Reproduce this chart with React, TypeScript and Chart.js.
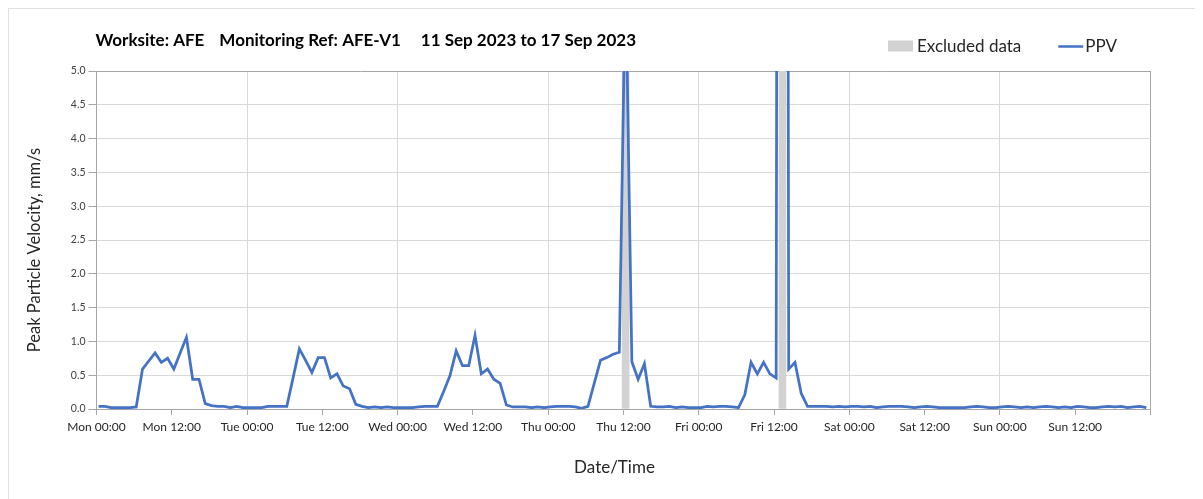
import React, { useEffect, useRef } from 'react';
import { Chart, registerables } from 'chart.js';

Chart.register(...registerables);

// ---- data -------------------------------------------------------------
const TITLE_PARTS = ['Worksite: AFE', 'Monitoring Ref: AFE-V1', '11 Sep 2023 to 17 Sep 2023'];
const X_AXIS_TITLE = 'Date/Time';
const Y_AXIS_TITLE = 'Peak Particle Velocity, mm/s';
const X_TICK_LABELS = [
  'Mon 00:00', 'Mon 12:00', 'Tue 00:00', 'Tue 12:00', 'Wed 00:00', 'Wed 12:00',
  'Thu 00:00', 'Thu 12:00', 'Fri 00:00', 'Fri 12:00', 'Sat 00:00', 'Sat 12:00',
  'Sun 00:00', 'Sun 12:00',
];
const Y_MAX = 5;
const READING_MINUTE = 20; // hourly readings logged at hh:20

// hourly PPV values (mm/s), one array per day
const MON = [0.04, 0.04, 0.02, 0.02, 0.02, 0.02, 0.03, 0.59, 0.71, 0.83, 0.69, 0.75,
  0.59, 0.83, 1.06, 0.44, 0.44, 0.08, 0.05, 0.04, 0.04, 0.02, 0.04, 0.02];
const TUE = [0.02, 0.02, 0.02, 0.04, 0.04, 0.04, 0.04, 0.46, 0.89, 0.72, 0.54, 0.76,
  0.76, 0.46, 0.52, 0.34, 0.30, 0.07, 0.04, 0.02, 0.03, 0.02, 0.03, 0.02];
const WED = [0.02, 0.02, 0.02, 0.03, 0.04, 0.04, 0.04, 0.26, 0.49, 0.86, 0.64, 0.64,
  1.09, 0.52, 0.59, 0.44, 0.38, 0.06, 0.03, 0.03, 0.03, 0.02, 0.03, 0.02];
const THU = [0.03, 0.04, 0.04, 0.04, 0.03, 0.01, 0.04, 0.38, 0.72, 0.76, 0.81, 0.84,
  6.5, 0.70, 0.44, 0.67, 0.04, 0.03, 0.03, 0.04, 0.02, 0.03, 0.02, 0.02];
const FRI = [0.02, 0.04, 0.03, 0.04, 0.04, 0.03, 0.02, 0.21, 0.69, 0.52, 0.69, 0.52,
  0.46, 60, 0.59, 0.69, 0.23, 0.04, 0.04, 0.04, 0.04, 0.03, 0.04, 0.03];
const SAT = [0.04, 0.04, 0.03, 0.04, 0.02, 0.03, 0.04, 0.04, 0.04, 0.03, 0.02, 0.03,
  0.04, 0.03, 0.02, 0.02, 0.02, 0.02, 0.02, 0.03, 0.04, 0.03, 0.02, 0.02];
const SUN = [0.03, 0.04, 0.03, 0.02, 0.03, 0.02, 0.03, 0.04, 0.03, 0.02, 0.03, 0.02,
  0.04, 0.03, 0.02, 0.02, 0.03, 0.04, 0.03, 0.04, 0.02, 0.03, 0.04, 0.02];

// hour indices (from Mon 00:00) of readings flagged as excluded
const EXCLUDED_READINGS = [84, 109];

// ---- styling ----------------------------------------------------------
const FONT = 'Lato, "Open Sans", sans-serif';
const PPV_COLOR = '#4472C4';
const EXCLUDED_COLOR = '#d2d2d2';
const GRID_COLOR = '#d9d9d9';
const BORDER_COLOR = '#a6a6a6';
const TEXT_COLOR = '#262626';

const headerPlugin = {
  id: 'headerAndLegend',
  afterDraw(chart: any) {
    const { ctx, chartArea } = chart;
    ctx.save();
    // title
    ctx.font = `bold 17px ${FONT}`;
    ctx.fillStyle = '#000';
    ctx.textBaseline = 'middle';
    ctx.textAlign = 'left';
    const gaps = [15, 20];
    let x = chartArea.left - 1;
    TITLE_PARTS.forEach((t, i) => {
      ctx.fillText(t, x, 32);
      x += ctx.measureText(t).width + (gaps[i] ?? 0);
    });

    // axis titles
    ctx.fillStyle = TEXT_COLOR;
    ctx.font = `17px ${FONT}`;
    ctx.textAlign = 'center';
    ctx.fillText(X_AXIS_TITLE, (chartArea.left + chartArea.right) / 2 - 9, 459);
    ctx.save();
    ctx.translate(26, (chartArea.top + chartArea.bottom) / 2 + 10);
    ctx.rotate(-Math.PI / 2);
    ctx.font = `16.5px ${FONT}`;
    ctx.fillText(Y_AXIS_TITLE, 0, 0);
    ctx.restore();

    // legend
    ctx.textAlign = 'left';
    ctx.font = `17px ${FONT}`;
    let lx = 879;
    const ly = 37.5;
    chart.data.datasets.forEach((ds: any) => {
      if (ds.type === 'bar') {
        ctx.fillStyle = ds.backgroundColor;
        ctx.fillRect(lx, ly - 6, 25, 11);
        lx += 29;
      } else {
        ctx.strokeStyle = ds.borderColor;
        ctx.lineWidth = 2.5;
        ctx.beginPath();
        ctx.moveTo(lx, ly);
        ctx.lineTo(lx + 25, ly);
        ctx.stroke();
        lx += 27;
      }
      ctx.fillStyle = TEXT_COLOR;
      ctx.fillText(ds.label, lx, ly);
      lx += ctx.measureText(ds.label).width + 37;
    });
    ctx.restore();
  },
};

export default function App() {
  const ref = useRef<HTMLCanvasElement | null>(null);

  useEffect(() => {
    if (!ref.current) return;
    const offset = READING_MINUTE / 60;
    const ppv = [...MON, ...TUE, ...WED, ...THU, ...FRI, ...SAT, ...SUN].map((v, i) => ({ x: i + offset, y: v }));
    const excluded = EXCLUDED_READINGS.map((h) => ({ x: h + offset, y: Y_MAX }));

    const chart = new Chart(ref.current, {
      type: 'line',
      data: {
        datasets: [
          {
            type: 'bar',
            label: 'Excluded data',
            data: excluded,
            backgroundColor: EXCLUDED_COLOR,
            borderWidth: 0,
            barThickness: 7,
            order: 1,
          } as any,
          {
            type: 'line',
            label: 'PPV',
            data: ppv,
            borderColor: PPV_COLOR,
            backgroundColor: PPV_COLOR,
            borderWidth: 2.75,
            pointRadius: 0,
            tension: 0,
            order: 0,
          },
        ],
      },
      options: {
        animation: false,
        responsive: false,
        devicePixelRatio: 1,
        layout: { padding: { top: 62, right: 44.5, left: 0, bottom: 0 } },
        plugins: {
          legend: { display: false },
          title: { display: false },
          tooltip: { enabled: false },
        },
        scales: {
          x: {
            type: 'linear',
            min: 0,
            max: 168,
            offset: false,
            afterFit: (s: any) => { s.height = 90; },
            ticks: {
              stepSize: 12,
              autoSkip: false,
              maxRotation: 0,
              minRotation: 0,
              padding: 5,
              color: TEXT_COLOR,
              font: { family: FONT, size: 12 },
              callback: (v: any) => X_TICK_LABELS[Math.round(v / 12)] ?? '',
            },
            grid: {
              offset: false,
              color: (c: any) => {
                const v = c.tick?.value;
                if (v === 168) return BORDER_COLOR;
                return v % 24 === 0 && v !== 0 ? GRID_COLOR : 'rgba(0,0,0,0)';
              },
              tickColor: BORDER_COLOR,
              tickLength: 6,
            },
            border: { color: BORDER_COLOR },
          },
          y: {
            min: 0,
            max: Y_MAX,
            afterFit: (s: any) => { s.width = 87.5; },
            ticks: {
              stepSize: 0.5,
              padding: 3,
              color: '#404040',
              font: { family: FONT, size: 10.5 },
              callback: (v: any) => Number(v).toFixed(1),
            },
            grid: {
              color: (c: any) => (c.tick?.value === Y_MAX ? BORDER_COLOR : GRID_COLOR),
              tickColor: BORDER_COLOR,
              tickLength: 8,
            },
            border: { color: BORDER_COLOR },
          },
        },
      },
      plugins: [headerPlugin],
    });
    return () => chart.destroy();
  }, []);

  return (
    <div
      style={{
        width: 1187,
        height: 491,
        borderTop: '1px solid #e0e0e0',
        borderLeft: '1px solid #e0e0e0',
        boxSizing: 'border-box',
        background: '#fff',
      }}
    >
      <canvas ref={ref} width={1186} height={490} style={{ display: 'block', width: 1186, height: 490 }} />
    </div>
  );
}
